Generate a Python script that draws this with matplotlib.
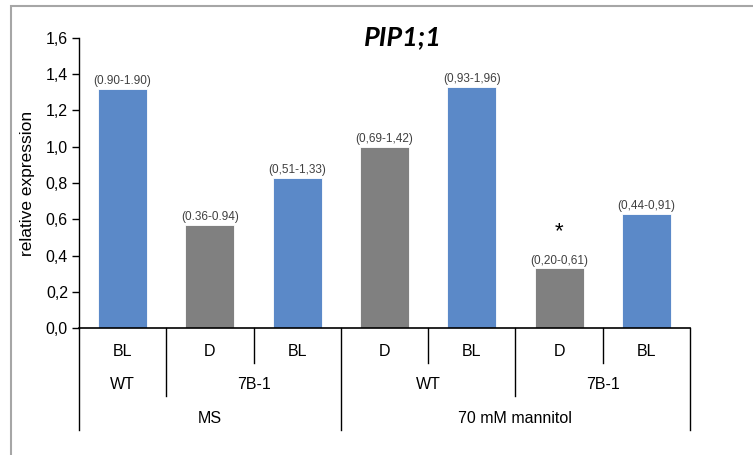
import matplotlib.pyplot as plt
from matplotlib.patches import Rectangle
import numpy as np

plt.rcParams['font.family'] = ['Liberation Sans', 'DejaVu Sans']

# three-level x axis: treatment / genotype / light
treatment = ["MS", "MS", "MS", "70 mM mannitol", "70 mM mannitol", "70 mM mannitol", "70 mM mannitol"]
genotype = ["WT", "7B-1", "7B-1", "WT", "WT", "7B-1", "7B-1"]
light = ["BL", "D", "BL", "D", "BL", "D", "BL"]
expression = [1.32, 0.57, 0.83, 1.00, 1.33, 0.33, 0.63]
ranges = ["(0.90-1.90)", "(0.36-0.94)", "(0,51-1,33)", "(0,69-1,42)",
          "(0,93-1,96)", "(0,20-0,61)", "(0,44-0,91)"]
signif = ["", "", "", "", "", "*", ""]
yticks = [0.0, 0.2, 0.4, 0.6, 0.8, 1.0, 1.2, 1.4, 1.6]

colors = {"BL": "#5B89C8", "D": "#808080"}

W, H = 753, 455
fig = plt.figure(figsize=(W / 100, H / 100), dpi=100)
ax = fig.add_axes([79 / W, (H - 328.3) / H, (690 - 79) / W, 290.6 / H])

x = np.arange(len(expression))
ax.bar(x, expression, width=0.56, color=[colors[l] for l in light],
       edgecolor="white", linewidth=0.6)

for xi, v, r, s in zip(x, expression, ranges, signif):
    ax.annotate(r, (xi, v), xytext=(0, 1), textcoords="offset points",
                ha="center", va="bottom", fontsize=8.5, color="#404040")
    if s:
        ax.text(xi, v + 0.2, s, ha="center", va="center", fontsize=16)

ax.set_xlim(-0.5, len(expression) - 0.5)
ax.set_ylim(0, 1.6)
ax.set_yticks(yticks)
ax.set_yticklabels([f"{t:.1f}".replace(".", ",") for t in yticks], fontsize=11.5)
ax.set_xticks([])
ax.tick_params(axis="y", length=5, width=1, pad=3)
ax.spines[["top", "right"]].set_visible(False)
ax.spines["left"].set_linewidth(1)
ax.spines["bottom"].set_linewidth(1.2)
ax.set_ylabel("relative expression", fontsize=12.5, labelpad=8)

# divider depths and label rows below the axis (data units)
depth = [-0.189, -0.373, -0.56]
rows = [-0.129, -0.312, -0.499]
n = len(expression)
for b in range(n + 1):
    if b == 0 or b == n or treatment[b] != treatment[b - 1]:
        lvl = 2
    elif genotype[b] != genotype[b - 1]:
        lvl = 1
    else:
        lvl = 0
    ax.plot([b - 0.5, b - 0.5], [0, depth[lvl]], color="black", lw=1, clip_on=False)

def runs(keys):
    out = []
    start = 0
    for i in range(1, len(keys) + 1):
        if i == len(keys) or keys[i] != keys[start]:
            out.append((keys[start], start, i - 1))
            start = i
    return out

for xi, l in zip(x, light):
    ax.text(xi, rows[0], l, ha="center", va="center", fontsize=11.5, clip_on=False)
for (t, g), a, b in runs(list(zip(treatment, genotype))):
    ax.text((a + b) / 2, rows[1], g, ha="center", va="center", fontsize=11.5, clip_on=False)
for t, a, b in runs(treatment):
    ax.text((a + b) / 2, rows[2], t, ha="center", va="center", fontsize=11.5, clip_on=False)

fig.text(403 / W, (H - 45) / H, "PIP1;1", family=["Lato", "DejaVu Sans"],
         fontweight="bold", fontstyle="italic", fontsize=19.5, ha="center", va="baseline")

# chart area border
fig.add_artist(Rectangle((11 / W, -0.1), 1.2, (H - 6) / H + 0.1, transform=fig.transFigure,
                         fill=False, edgecolor="#A6A6A6", lw=1.5))

fig.savefig("out.png", dpi=100)
